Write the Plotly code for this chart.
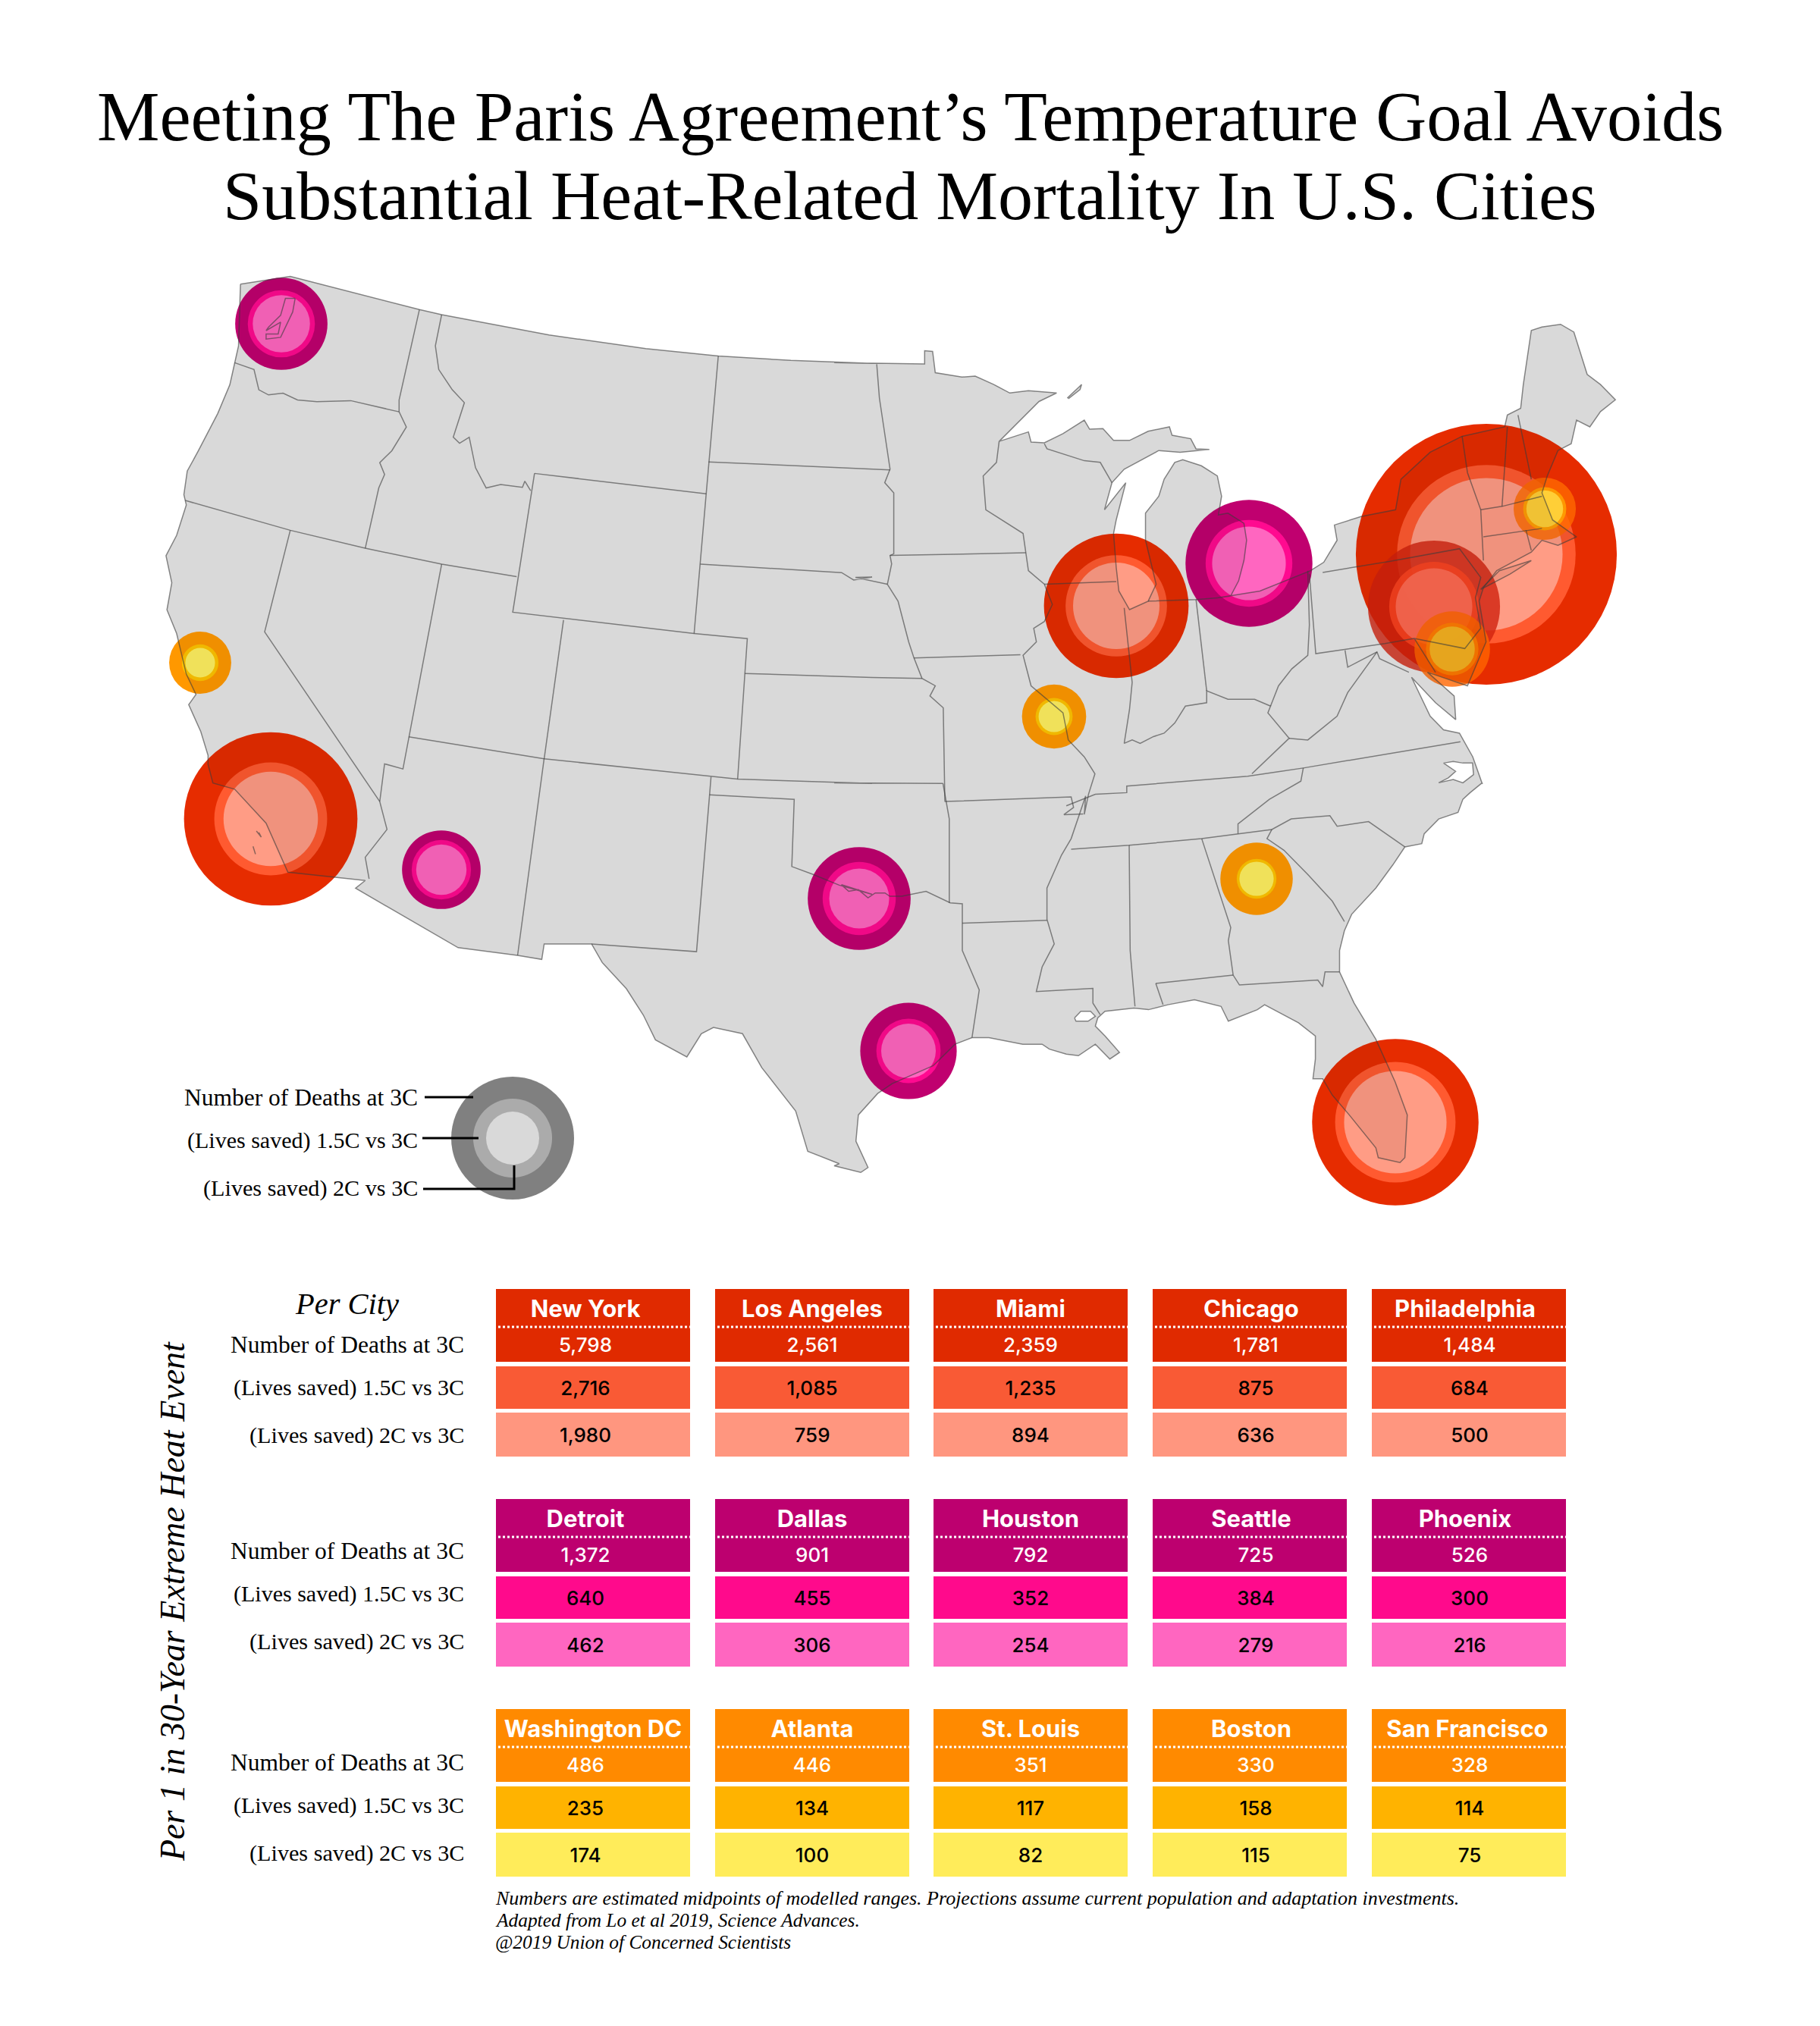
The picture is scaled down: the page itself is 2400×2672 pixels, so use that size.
import plotly.graph_objects as go

# table values, one block per colour group
cities_red = ["New York", "Los Angeles", "Miami", "Chicago", "Philadelphia"]
deaths_red = [5798, 2561, 2359, 1781, 1484]
saved15_red = [2716, 1085, 1235, 875, 684]
saved2_red = [1980, 759, 894, 636, 500]

cities_pink = ["Detroit", "Dallas", "Houston", "Seattle", "Phoenix"]
deaths_pink = [1372, 901, 792, 725, 526]
saved15_pink = [640, 455, 352, 384, 300]
saved2_pink = [462, 306, 254, 279, 216]

cities_orange = ["Washington DC", "Atlanta", "St. Louis", "Boston", "San Francisco"]
deaths_orange = [486, 446, 351, 330, 328]
saved15_orange = [235, 134, 117, 158, 114]
saved2_orange = [174, 100, 82, 115, 75]

row_labels = ["Number of Deaths at 3C", "(Lives saved) 1.5C vs 3C", "(Lives saved) 2C vs 3C"]
legend_values = [1285, 530, 240]

# city positions on the drawn map, picture pixels
city_pos = {
    "New York": (1960, 731), "Los Angeles": (357, 1080), "Miami": (1840, 1480),
    "Chicago": (1472, 799), "Philadelphia": (1891, 800), "Detroit": (1647, 743),
    "Dallas": (1133, 1185), "Houston": (1198, 1386), "Seattle": (371, 427),
    "Phoenix": (582, 1147), "Washington DC": (1915, 856), "Atlanta": (1657, 1159),
    "St. Louis": (1390, 945), "Boston": (2037, 671), "San Francisco": (264, 874),
}

title_lines = ["Meeting The Paris Agreement\u2019s Temperature Goal Avoids",
               "Substantial Heat-Related Mortality In U.S. Cities"]
foot_lines = ["Numbers are estimated midpoints of modelled ranges. Projections assume current population and adaptation investments.",
              "Adapted from Lo et al 2019, Science Advances.",
              "@2019 Union of Concerned Scientists"]

groups = [
    dict(cities=cities_red, rows=[deaths_red, saved15_red, saved2_red],
         table=["#E02A00", "#F95A35", "#FF967F"], bubble=["#E62C00", "#FF5A30", "#FF9C85"], top=1700, label_dy=0),
    dict(cities=cities_pink, rows=[deaths_pink, saved15_pink, saved2_pink],
         table=["#BD006F", "#FF0A8C", "#FF66C0"], bubble=["#C0006F", "#FF0A90", "#FF66C0"], top=1977, label_dy=-5),
    dict(cities=cities_orange, rows=[deaths_orange, saved15_orange, saved2_orange],
         table=["#FF8A00", "#FFB300", "#FFEC5A"], bubble=["#FF9800", "#FFC400", "#FFF060"], top=2254, label_dy=-3),
]

# these three sit on top of New York, colours picked so the blend looks right
overlap_colors = {
    "Philadelphia": ["#D1220E", "#FF4622", "#FF735C"],
    "Washington DC": ["#FF6500", "#FF8200", "#F3BE28"],
    "Boston": ["#FF6A00", "#FFA800", "#FFDC45"],
}

# the base map is traced by hand from the picture since geo topojson needs network
Z1 = (150, 340, 1.568, 2.24)
Z2 = (1100, 400, 1.425, 2.24)
Z3 = (150, 1000, 1.568, 2.45)
Z4 = (1100, 950, 1.568, 2.306)


def tr(frame, pts):
    return [(frame[0] + x / frame[2], frame[1] + y / frame[3]) for x, y in pts]


coast = (
    tr(Z1, [(262, 78), (365, 55), (632, 153), (678, 168), (900, 228), (1100, 268), (1250, 290), (1400, 303), (1568, 312)])
    + tr(Z2, [(0, 175), (170, 179), (170, 140), (185, 142), (190, 205), (240, 218), (265, 215), (300, 240), (330, 265),
              (365, 258), (418, 265), (385, 290), (340, 360), (310, 408), (365, 380), (370, 410), (395, 412), (430, 385),
              (470, 345), (480, 372), (505, 370), (525, 405), (555, 405), (590, 378), (630, 365), (635, 390), (670, 400),
              (680, 430), (705, 432), (650, 440), (610, 435), (575, 465), (545, 490), (522, 530), (508, 610), (548, 530),
              (530, 640), (525, 680), (530, 780), (535, 850), (555, 905), (590, 880), (605, 830), (585, 700), (585, 620),
              (610, 570), (620, 520), (640, 470), (655, 462), (690, 480), (720, 510), (728, 570), (722, 625), (740, 620),
              (770, 650), (775, 700), (770, 760), (760, 820), (745, 865), (720, 870), (800, 850), (895, 790), (920, 765),
              (945, 700), (940, 655), (990, 630), (1055, 610), (1065, 520), (1120, 440), (1180, 393), (1260, 365),
              (1265, 330), (1290, 310), (1295, 240), (1310, 80), (1330, 70), (1365, 62), (1390, 85), (1415, 210),
              (1440, 240), (1468, 285), (1440, 320), (1420, 365), (1395, 345), (1385, 415), (1360, 435), (1340, 510),
              (1330, 560), (1350, 640), (1395, 690), (1360, 715), (1330, 700), (1310, 735), (1245, 790), (1220, 840),
              (1212, 880), (1225, 1000), (1190, 1130), (1115, 1090), (1165, 1160), (1168, 1230), (1130, 1180),
              (1085, 1105), (1120, 1220), (1145, 1260), (1175, 1270), (1200, 1340), (1218, 1420)])
    + tr(Z4, [(1340, 190), (1315, 220), (1300, 240), (1290, 280), (1250, 300), (1220, 345), (1215, 375), (1180, 385),
              (1155, 440), (1120, 510), (1070, 590), (1055, 640), (1045, 700), (1045, 765), (1075, 860), (1120, 970),
              (1160, 1100), (1185, 1200), (1180, 1330), (1170, 1345), (1125, 1330), (1120, 1300), (1065, 1200),
              (1030, 1140), (1010, 1090), (990, 1090), (995, 1030), (995, 960), (960, 920), (890, 865), (875, 880),
              (815, 915), (800, 870), (745, 850), (690, 865), (650, 880), (620, 875), (560, 885), (545, 905), (540, 930),
              (560, 960), (590, 1010), (570, 1030), (540, 985), (515, 1010), (505, 1020), (480, 1015), (445, 1000),
              (430, 985), (410, 985), (390, 985), (320, 965), (285, 965), (250, 985), (205, 1050), (120, 1105),
              (90, 1135), (50, 1200), (45, 1280), (70, 1360), (55, 1375), (0, 1355)])
    + tr(Z3, [(1500, 1310), (1435, 1270), (1410, 1140), (1340, 1000), (1300, 890), (1240, 870), (1215, 890), (1185, 965),
              (1120, 910), (1095, 830), (1060, 745), (1010, 660), (988, 600), (890, 600), (885, 650), (835, 637),
              (712, 612), (500, 420), (520, 395), (360, 368), (315, 210), (250, 100), (205, 80), (195, 20)])
    + tr(Z1, [(195, 1470), (180, 1400), (155, 1320), (170, 1290), (150, 1230), (130, 1110), (110, 1040), (120, 960),
              (108, 880), (130, 820), (150, 730), (145, 700), (152, 630), (175, 570), (215, 460), (240, 375), (250, 310),
              (258, 260), (262, 78)])
)

borders = [
    tr(Z1, [(632, 153), (590, 420), (590, 455), (605, 500), (575, 570), (550, 605), (560, 640), (548, 680), (520, 858)]),
    tr(Z1, [(250, 310), (290, 330), (300, 390), (320, 405), (350, 400), (380, 420), (420, 425), (490, 422), (590, 455)]),
    tr(Z1, [(678, 168), (665, 260), (672, 330), (700, 390), (725, 428), (702, 530), (715, 548), (735, 530), (748, 620),
            (770, 680), (800, 670), (845, 678), (850, 660), (862, 688)]),
    tr(Z1, [(148, 717), (365, 805), (520, 858), (678, 905), (833, 942)]),
    tr(Z1, [(365, 805), (312, 1105)]) + tr(Z3, [(550, 140)]),
    tr(Z1, [(678, 905), (610, 1415), (598, 1510), (560, 1495)]) + tr(Z3, [(550, 140), (565, 230), (520, 320), (528, 390)]),
    tr(Z1, [(610, 1415), (890, 1480), (1290, 1540), (1568, 1553)]) + tr(Z4, [(0, 190), (225, 192)]),
    tr(Z1, [(870, 637), (1225, 697)]),
    tr(Z1, [(870, 637), (825, 1047), (1200, 1110), (1310, 1125), (1305, 1228), (1290, 1540)]),
    tr(Z1, [(1250, 290), (1230, 603), (1225, 697), (1200, 1110)]),
    tr(Z1, [(1230, 603), (1568, 625)]) + tr(Z2, [(105, 492)]),
    tr(Z1, [(1213, 905), (1505, 930), (1530, 952), (1568, 943)]) + tr(Z2, [(40, 810), (100, 830)]),
    tr(Z1, [(930, 1070), (890, 1480)]),
    tr(Z1, [(1305, 1228), (1568, 1240)]) + tr(Z2, [(165, 1108)]),
    tr(Z3, [(890, 0), (835, 637)]),
    tr(Z3, [(988, 600), (1205, 625), (1232, 118), (1235, 60)]),
    tr(Z3, [(1232, 118), (1407, 133), (1402, 350), (1445, 375), (1500, 410), (1568, 440)])
    + tr(Z4, [(15, 500), (30, 520), (50, 515), (70, 540), (85, 525), (105, 525), (115, 535), (140, 535), (190, 520), (240, 555),
              (265, 558), (265, 700), (300, 820), (285, 965)]),
    tr(Z4, [(265, 617), (440, 608)]),
    tr(Z4, [(225, 192), (238, 300), (238, 555)]),
    tr(Z4, [(228, 247), (490, 233), (495, 265), (475, 287), (515, 285)]),
    tr(Z2, [(80, 180), (85, 280), (105, 490), (95, 530), (112, 560), (112, 740), (105, 745), (108, 770), (100, 830), (120, 880),
            (140, 1000), (150, 1048), (165, 1108), (190, 1130), (180, 1160), (205, 1195), (208, 1470)]),
    tr(Z2, [(105, 745), (360, 737)]),
    tr(Z2, [(150, 1048), (350, 1038)]),
    tr(Z2, [(310, 408), (305, 470), (280, 510), (285, 610), (355, 680), (365, 790), (395, 830), (410, 890), (395, 940), (375, 960),
            (380, 1000), (355, 1040), (370, 1130), (400, 1170), (430, 1210), (440, 1290), (470, 1340), (490, 1390), (478, 1450), (470, 1510)])
    + tr(Z4, [(520, 230), (490, 360), (470, 410), (440, 510), (440, 605), (455, 680), (430, 750), (418, 825), (535, 815), (535, 860), (550, 895)]),
    tr(Z2, [(395, 830), (530, 822)]),
    tr(Z2, [(395, 415), (400, 430), (470, 465), (500, 470), (522, 530)]),
    tr(Z2, [(545, 900), (560, 1120), (555, 1200), (545, 1300), (560, 1290), (575, 1300), (600, 1280), (620, 1270), (640, 1240), (660, 1190),
            (700, 1180), (700, 1145), (740, 1170), (790, 1170), (820, 1190), (815, 1210), (855, 1285), (785, 1390)]),
    tr(Z2, [(590, 880), (680, 875), (720, 870)]),
    tr(Z2, [(680, 875), (700, 1145)]),
    tr(Z2, [(820, 1190), (835, 1130), (860, 1080), (890, 1040), (893, 950), (890, 790)]),
    tr(Z2, [(893, 800), (905, 1035), (1035, 1005), (1090, 990)]),
    tr(Z2, [(960, 1025), (965, 1075), (1020, 1030), (1025, 1050), (1080, 1090)]),
    tr(Z2, [(1020, 1030), (965, 1150), (945, 1220), (890, 1290), (855, 1285)]),
    tr(Z2, [(918, 795), (1045, 762), (1175, 725), (1215, 810), (1205, 870), (1215, 960), (1185, 1020), (1090, 990), (1130, 1090)]),
    tr(Z2, [(1180, 393), (1190, 500), (1215, 610), (1220, 760)]),
    tr(Z2, [(1265, 365), (1255, 600)]),
    tr(Z2, [(1285, 330), (1310, 520)]),
    tr(Z2, [(1215, 610), (1255, 600), (1330, 570)]),
    tr(Z2, [(1220, 690), (1330, 665)]),
    tr(Z2, [(1300, 670), (1310, 730)]),
    tr(Z4, [(480, 260), (540, 225), (605, 220), (605, 200), (855, 170), (970, 145), (1295, 65)]),
    tr(Z4, [(970, 145), (965, 185), (900, 240), (835, 315), (835, 345)]),
    tr(Z4, [(490, 392), (610, 380), (760, 360), (905, 332), (945, 300), (1025, 290), (1040, 322), (1105, 308), (1180, 385)]),
    tr(Z4, [(905, 332), (895, 360), (930, 395), (980, 470), (1030, 550), (1055, 612)]),
    tr(Z4, [(760, 360), (820, 630), (815, 670), (825, 775), (838, 805), (1000, 790), (1010, 810), (1015, 765), (1045, 765)]),
    tr(Z4, [(610, 380), (612, 700), (622, 870)]),
    tr(Z4, [(665, 800), (825, 775)]),
    tr(Z4, [(665, 800), (680, 865)]),
    # small water lines seen through the bubbles
    tr(Z1, [(375, 120), (355, 120), (345, 170), (320, 205), (315, 215), (345, 190), (340, 225), (315, 225), (315, 240), (345, 235), (370, 160), (375, 120)]),
    tr(Z3, [(295, 235), (305, 255), (300, 240)]),
    tr(Z3, [(288, 285), (293, 310)]),
]
isle_royale = tr(Z2, [(438, 280), (465, 240), (462, 255), (440, 282)])
long_island = tr(Z2, [(1215, 845), (1250, 790), (1310, 760), (1270, 800), (1215, 845)])
sounds = [
    tr(Z4, [(1260, 130), (1280, 125), (1300, 130), (1320, 130), (1322, 165), (1300, 190), (1280, 180), (1250, 190), (1270, 175), (1285, 155), (1260, 130)]),
    tr(Z4, [(497, 905), (510, 885), (530, 885), (540, 900), (525, 915), (500, 915), (497, 905)]),
]


def xs_ys(paths):
    xs, ys = [], []
    for p in paths:
        xs += [a for a, _ in p] + [None]
        ys += [b for _, b in p] + [None]
    return xs, ys


SERIF = "Liberation Serif"
SANS = "Inter"
BUBBLE_REF = 0.0979   # area scale of the bubbles
COLS = [654, 943, 1231, 1520, 1809]
CW = 256
VAL_SHIFT = [-10, 0, 0, 8, 1]
HEAD_SHIFT = [-10, 0, 0, 2, -5]
LABEL_SIZES = [31.5, 30, 30.2]

fig = go.Figure()
land = [coast, isle_royale, long_island]
lx, ly = xs_ys(land)

fig.add_trace(go.Scatter(x=lx, y=ly, mode="none", fill="toself", fillcolor="#E7E7E7"))

# bubbles, largest first so small ones sit on top
all_cities = []
for g in groups:
    for i, c in enumerate(g["cities"]):
        all_cities.append((g["rows"][0][i], c, [r[i] for r in g["rows"]], g["bubble"]))
all_cities.sort(key=lambda t: -t[0])
for _, name, vals, colors in all_cities:
    cx, cy = city_pos[name]
    fig.add_trace(go.Scatter(
        x=[cx] * 3, y=[cy] * 3, mode="markers",
        marker=dict(size=vals, sizemode="area", sizeref=BUBBLE_REF, color=overlap_colors.get(name, colors),
                    line=dict(width=0), opacity=0.8 if name in overlap_colors else 1),
    ))

# land again on top: slightly darkens what lies over land and shows the lines through
bx, by = xs_ys(borders + land)
fig.add_trace(go.Scatter(x=lx, y=ly, mode="none", fill="toself", fillcolor="rgba(0,0,0,0.06)"))
sx, sy = xs_ys(sounds)
fig.add_trace(go.Scatter(x=sx, y=sy, mode="lines", fill="toself", fillcolor="white", line=dict(color="rgba(60,60,60,0.6)", width=1.5)))
fig.add_trace(go.Scatter(x=bx, y=by, mode="lines", line=dict(color="rgba(60,60,60,0.6)", width=1.5)))

# legend bubble
fig.add_trace(go.Scatter(
    x=[676] * 3, y=[1501] * 3, mode="markers",
    marker=dict(size=legend_values, sizemode="area", sizeref=BUBBLE_REF, opacity=1,
                color=["#808080", "#ABABAB", "#D9D9D9"], line=dict(width=0)),
))
fig.add_trace(go.Scatter(
    x=[560, 624, None, 557, 631, None, 558, 678, 678], y=[1447, 1447, None, 1501, 1501, None, 1568, 1568, 1537],
    mode="lines", line=dict(color="black", width=3),
))

shapes = []
annots = []


def label(x, y, text, size, anchor="center", style="normal", angle=0, color="black"):
    annots.append(dict(x=x, y=y, xref="x", yref="y", text=text, showarrow=False, xanchor=anchor, yanchor="middle",
                       textangle=angle, font=dict(family=SERIF, size=size, style=style, color=color)))


for line, y, size in zip(title_lines, [153, 258], [92.7, 92]):
    label(1200, y, line, size)

for text, y, size in zip(row_labels, [1447, 1504, 1567], LABEL_SIZES):
    label(553, y, text, size, "right")

label(457, 1719, "Per City", 40.5, style="italic")
label(227, 2112, "Per 1 in 30-Year Extreme Heat Event", 46, style="italic", angle=-90)
for line, y, size in zip(foot_lines, [2503, 2532, 2561], [26, 25.4, 25.4]):
    label(651, y, line, size, "left", style="italic")

row_spans = [(0, 96), (102, 158), (163, 221)]
val_offs = [76, 133, 195]
for g in groups:
    top = g["top"]
    for text, off, size in zip(row_labels, [73, 130, 193], LABEL_SIZES):
        label(614, top + off + g["label_dy"], text, size, "right")
    for i, x0 in enumerate(COLS):
        for (a, b), col in zip(row_spans, g["table"]):
            shapes.append(dict(type="rect", xref="x", yref="y", x0=x0, x1=x0 + CW, y0=top + a, y1=top + b,
                               fillcolor=col, line=dict(width=0), layer="below"))
    head_x = [x + CW / 2 + s for x, s in zip(COLS, HEAD_SHIFT)]
    if g["cities"][0] == "Washington DC":
        head_x[0] = COLS[0] + CW / 2
        head_x[4] = COLS[4] + CW / 2 - 2
    fig.add_trace(go.Scatter(x=head_x, y=[top + 29] * 5, mode="text", text=g["cities"], textposition="middle center",
                             textfont=dict(family=SANS, size=31, color="white", weight=700)))
    dot_x, dot_y = xs_ys([[(x + 3, top + 50), (x + CW, top + 50)] for x in COLS])
    fig.add_trace(go.Scatter(x=dot_x, y=dot_y, mode="lines", line=dict(color="white", width=3, dash="3px,3px")))
    for row, off, col in zip(g["rows"], val_offs, ["white", "black", "black"]):
        fig.add_trace(go.Scatter(
            x=[x + CW / 2 + s for x, s in zip(COLS, VAL_SHIFT)], y=[top + off] * 5, mode="text",
            text=[f"{v:,}" for v in row], textposition="middle center",
            textfont=dict(family=SANS, size=26, color=col, weight=500)))

fig.update_layout(
    width=2400, height=2672, margin=dict(l=0, r=0, t=0, b=0), showlegend=False,
    paper_bgcolor="white", plot_bgcolor="white", hovermode=False,
    xaxis=dict(range=[0, 2400], visible=False, fixedrange=True),
    yaxis=dict(range=[2672, 0], visible=False, fixedrange=True),
    shapes=shapes, annotations=annots,
)
fig.write_html("out.html", config=dict(displayModeBar=False), post_script="document.body.style.margin='0';")
